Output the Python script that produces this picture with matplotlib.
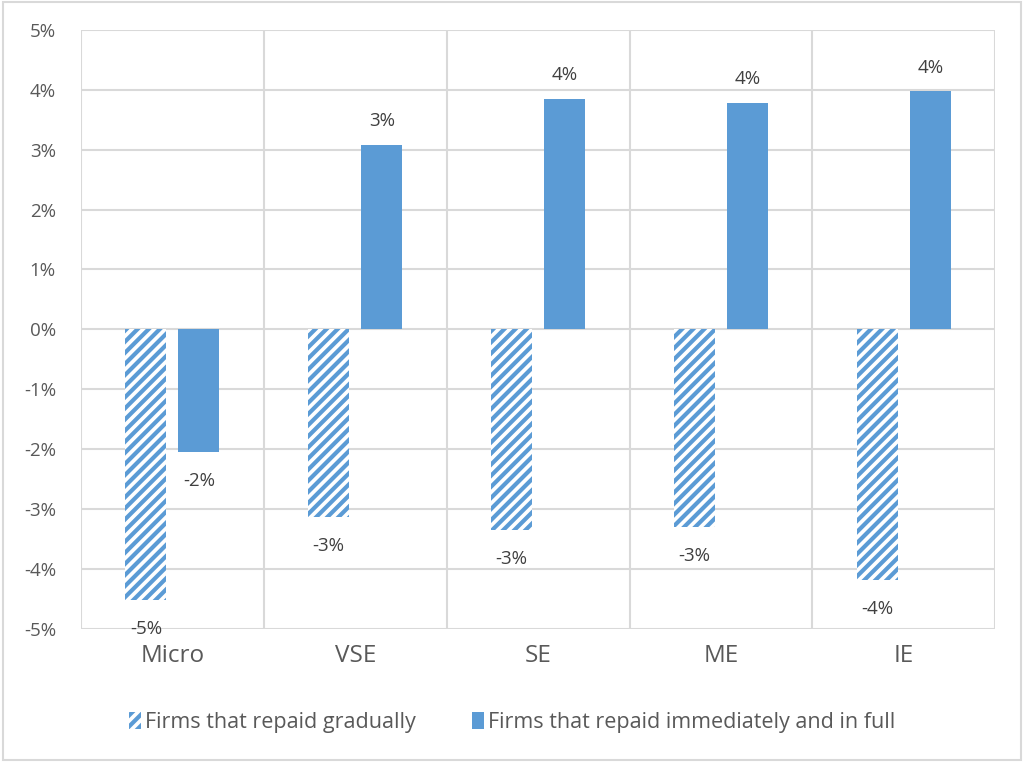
import numpy as np
import matplotlib
matplotlib.use("Agg")
from matplotlib import pyplot as plt
from matplotlib.patches import Rectangle

categories = ['Micro', 'VSE', 'SE', 'ME', 'IE']
gradual = [-4.52, -3.13, -3.35, -3.30, -4.18]
immediate = [-2.05, 3.08, 3.85, 3.78, 3.97]
legend_labels = ['Firms that repaid gradually', 'Firms that repaid immediately and in full']

blue = '#5B9BD5'
grey_text = '#595959'
grid_col = '#D9D9D9'

plt.rcParams['font.family'] = ['Open Sans', 'DejaVu Sans']
plt.rcParams['hatch.linewidth'] = 3.0

fig = plt.figure(figsize=(10.24, 7.62), dpi=100)
ax = fig.add_axes([0.079, 0.1745, 0.893, 0.7865])

x = np.arange(len(categories))
w = 0.224
b1 = ax.bar(x - 0.145, gradual, w, color='white', edgecolor=blue, hatch='///',
            linewidth=0, label=legend_labels[0], zorder=3)
b2 = ax.bar(x + 0.145, immediate, w, color=blue, edgecolor=blue, linewidth=0,
            label=legend_labels[1], zorder=3)

# data labels, rounded to whole percent
for bars, vals in [(b1, gradual), (b2, immediate)]:
    for r, v in zip(bars, vals):
        off = 17 if v > 0 else -21
        ax.annotate(f'{round(v):.0f}%', (r.get_x() + r.get_width() / 2, v),
                    xytext=(0, off), textcoords='offset points',
                    ha='center', va='center', fontsize=13.5, color='#404040')

ax.set_xlim(-0.5, len(categories) - 0.5)
ax.set_ylim(-5, 5)
ax.set_yticks(np.arange(-5, 6, 1))
ax.set_yticklabels([f'{t}%' for t in range(-5, 6)])
ax.set_xticks(x)
ax.set_xticklabels(categories)
ax.set_xticks(np.arange(-0.5, len(categories), 1), minor=True)

ax.tick_params(axis='y', length=0, labelsize=13.5, labelcolor=grey_text, pad=18)
ax.tick_params(axis='x', which='both', length=0, labelsize=17.5, labelcolor=grey_text, pad=11)
ax.grid(axis='y', which='major', color=grid_col, linewidth=1.5, zorder=0)
ax.grid(axis='x', which='minor', color=grid_col, linewidth=1.5, zorder=0)
ax.grid(axis='x', which='major', visible=False)
for s in ax.spines.values():
    s.set_visible(False)
ax.set_axisbelow(True)

fig.legend(handles=[b1, b2], loc='lower center', bbox_to_anchor=(0.5, 0.013), ncol=2,
           frameon=False, fontsize=15.5, handlelength=0.55, handleheight=0.85,
           handletextpad=0.2, columnspacing=2.6, labelcolor=grey_text)

# thin outer frame
fig.patches.append(Rectangle((0.003, 0.003), 0.994, 0.994, transform=fig.transFigure,
                             fill=False, edgecolor=grid_col, linewidth=1.5))

fig.savefig('out.png', dpi=100)
